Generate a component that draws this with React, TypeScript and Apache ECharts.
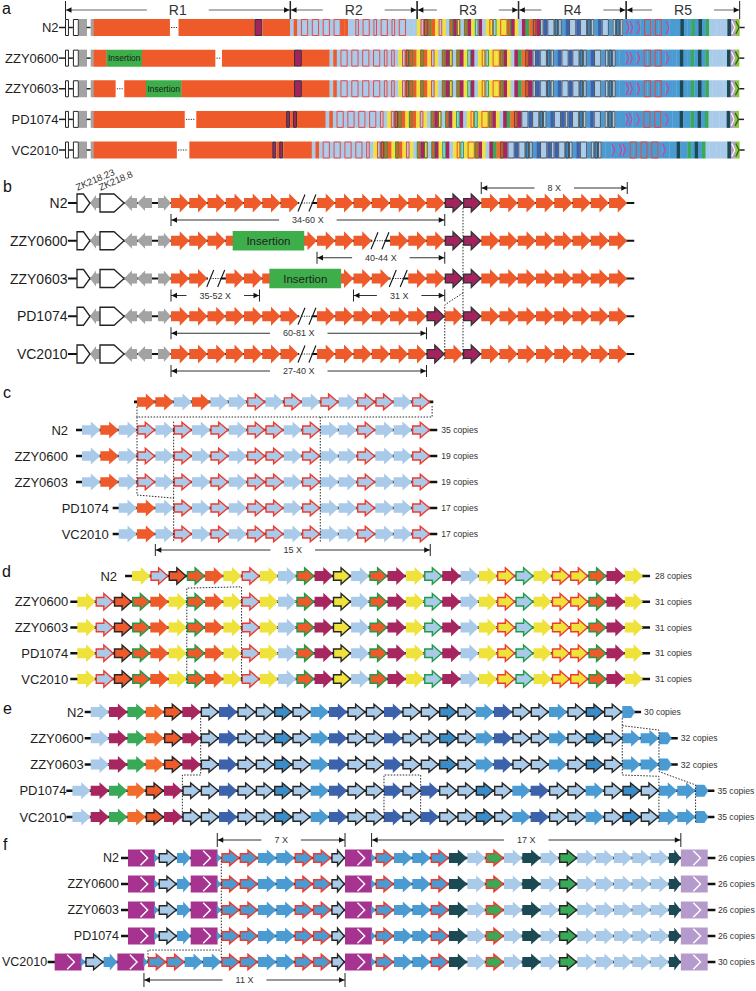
import React, { useEffect, useRef } from "react";
import * as echarts from "echarts";

const FONT = '"Liberation Sans", Arial, Helvetica, sans-serif';

// ---------- colours ----------
const OR = "#EE5A2A";
const OR2 = "#F26B2C";
const MAG = "#A3235E";
const MAG2 = "#A8265F";
const GRAY = "#A3A3A3";
const LB = "#A9CAE9";
const RED = "#EE3B30";
const GRN_O = "#1E9C48";
const YEL = "#EEE23B";
const GRN = "#38AA57";
const DB = "#3B62AB";
const MB = "#4B9BD3";
const MK = "#3A8CC8";
const TEAL = "#1C4A54";
const PUR = "#A6338F";
const LAV = "#B59BCB";
const INS = "#3DAE4A";
const LIME = "#8CC63F";
const BLK = "#262626";
const CHEV = "#D8399A";

// ---------- data ----------
const STRAINS = ["N2", "ZZY0600", "ZZY0603", "PD1074", "VC2010"];
const REGIONS = ["R1", "R2", "R3", "R4", "R5"];

// panel a : R1 segments [code, length]
const A_PREFIX: any[] = [["w", 4], ["k", 4], ["w", 6], ["g", 8], ["k", 4], ["g", 3]];
const A_R1: any[] = [
  [["O", 77], [".", 9], ["O", 77], ["m", 8], ["O", 28]],
  [["O", 13], ["I", 36], ["O", 74], [".", 7], ["O", 73], ["m", 8], ["O", 28]],
  [["O", 22], [".", 9], ["O", 22], ["I", 36], ["O", 114], ["m", 8], ["O", 28]],
  [["O", 92], [".", 12], ["O", 91], ["m", 4], ["O", 3], ["m", 4], ["O", 29]],
  [["O", 84], [".", 13], ["O", 84], ["m", 4], ["O", 3], ["m", 4], ["O", 29]],
];
// panel a : R2 and R5 repeat copies
const A_R2 = [
  "LOLRRLRRLRRLRROOLLRLRRLRLRRLRLRRLLL",
  "LOLRRLRRLRRLRRLRLRL",
  "LOLRRLRRLRRLRRLRLRL",
  "LOLRRLRRLRRLRRLRL",
  "LOLRRLRRLRRLRRLRL",
];
const A_R5 = [
  "ccBcBRRBRRBcBBBTBBGBTBGLLLLLTP",
  "ccBcBRRBRRBcBBBTBBGBTBGLLLLLTP",
  "ccBcBRRBRRBcBBBTBBGBTBGLLLLLTP",
  "ccBcBRRBRRBcBBBTBBGBTBGLLLLLTP",
  "cBccBRRBRRBRRBcBBBTBBGBTBGLLLLLLTP",
];

// panel b
const B_PREFIX: any[] = [["wp", 0.71], ["gl", 0.55], ["wp", 1.32], ["gl", 0.71], ["gl", 0.82], ["-", 0.33], ["gr", 0.71]];
const B_GENES: any[] = [["ZK218.23", 0], ["ZK218.8", 2]];
const B_ROWS = [
  "OOOOOOO/OOOOOOOMMOOOOOOOO",
  "OOOOOOOOOOO/OOOMMOOOOOOOO",
  "OO/OOOOOOOOO/OOMMOOOOOOOO",
  "OOOOOOO/OOOOOOMOMOOOOOOOO",
  "OOOOOOO/OOOOOOMOMOOOOOOOO",
];
const B_INSERT = [[1, 3.38, 7.3], [2, 5.39, 9.32]];
const B_NOTES: any[] = [
  [0, 0, 15, "34-60 X", 1],
  [0, 17, 25, "8 X", -1],
  [1, 8, 15, "40-44 X", 1],
  [2, 0, 4.85, "35-52 X", 1],
  [2, 10, 15, "31 X", 1],
  [3, 0, 14, "60-81 X", 1],
  [4, 0, 14, "27-40 X", 1],
];
const B_DOTS = [
  [[16, 0.13], [16, 4.15]],
  [[16, 2.38], [15, 2.7], [15, 4.15]],
];

// panel c
const C_TOP = "OOLOLLRLRLRLRRLR";
const C_TOP_START = 3;
const C_ROWS = [
  "LOLRLRLRLRRLRLLRLLR",
  "LOLRLRLRLRRLRLLRLLR",
  "LOLRLRLRLRRLRLLRLLR",
  "LOLRLRLRRLRLLRLLR",
  "LOLRLRLRRLRLLRLLR",
];
const C_START = [0, 0, 0, 2, 2];
const C_COPIES = ["35 copies", "19 copies", "19 copies", "17 copies", "17 copies"];
const C_NOTES: any[] = [[4, 4, 19, "15 X", 1]];
const C_DOTS = [
  [[3, -0.9], [3, -0.5], [19.1, -0.5], [19.1, -0.96]],
  [[13, -0.5], [13, 4.3]],
  [[3, -0.5], [3, 2.5], [5, 2.62], [5, 4.3]],
  [[5, -0.32], [5, 2.62]],
];

// panel d
const D_ROWS = [
  "YAKGOYAYLGMBLGMYNMLYRNYRRGMY",
  "YAKGOYGOYAYLGMBLGMYNMLYRNYRRGMY",
  "YAKGOYGOYAYLGMBLGMYNMLYRNYRRGMY",
  "YAKGOYGOYAYLGMBLGMYNMLYRNYRRGMY",
  "YAKGOYGOYAYLGMBLGMYNMLYRNYRRGMY",
];
const D_START = [3, 0, 0, 0, 0];
const D_COPIES = ["28 copies", "31 copies", "31 copies", "31 copies", "31 copies"];
const D_DOTS = [[[6, 4.16], [6, 0.47], [9, 0.42], [9, 4.16]]];

// panel e
const E_ROWS = [
  "LMGOKMWDWWCWBDWWDWWCWBDWWBWCWp",
  "LMGOKMWDWWCWBDWWDWWCWBDWWBWCWBBp",
  "LMGOKMWDWWCWBDWWDWWCWBDWWBWCWBBp",
  "LMGOKMWWDWWCWBDWWDWDWWCWBDWWBWCWBBp",
  "LMGOKMWWDWWCWBDWWDWDWWCWBDWWBWCWBBp",
];
const E_START = [0, 0, 0, -1, -1];
const E_COPIES = ["30 copies", "32 copies", "32 copies", "35 copies", "35 copies"];
const E_DOTS = [
  [[6, 0.23], [6, 2.4], [5, 2.4], [5, 4.2]],
  [[16, 4.2], [16, 2.4], [18, 2.4], [18, 4.2]],
  [[29, 0.23], [29, 2.4], [31, 2.45], [31, 4.2]],
  [[29, 0.52], [31, 0.69], [31, 2.27], [33, 2.78], [33, 4.2]],
];

// panel f
const F_ROWS = [
  "XtKsXtRRBBRRkXtRBBRTLQLTLHLLLLLdP",
  "XtKsXtRRBBRRkXtRBBRTLQLTLHLLLLLdP",
  "XtKsXtRRBBRRkXtRBBRTLQLTLHLLLLLdP",
  "XtKsXtRRBBRRkXtRBBRTLQLTLHLLLLLdP",
  "XtKsXtRRBBRRBBRRkXtRBBRTLQLTLHLLLLLdP",
];
const F_START = [0, 0, 0, 0, -4];
const F_COPIES = ["26 copies", "26 copies", "26 copies", "26 copies", "30 copies"];
const F_NOTES: any[] = [[0, 5, 12, "7 X", -1], [0, 14, 31, "17 X", -1], [4, 5, 16, "11 X", 1]];
const F_DOTS = [
  [[5.09, 0.1], [5.09, 3.85]],
  [[1.09, 3.95], [1.09, 3.54], [5.09, 3.54]],
];

// ---------- glyph maps ----------
const C_MAP: any = { L: [LB], O: [OR], R: [LB, RED] };
const D_MAP: any = { Y: [YEL], A: [LB, RED], K: [OR, BLK], G: [OR, GRN_O], O: [OR], L: [LB], M: [MAG2], B: [YEL, BLK], N: [LB, GRN_O], R: [YEL, RED] };
const E_MAP: any = { L: [LB], M: [MAG2], G: [GRN], O: [OR2], K: [OR, BLK], W: [LB, BLK], D: [DB], C: [MK, BLK], B: [MB], p: [MB] };
const F_MAP: any = { K: [LB, BLK], s: [MB], R: [MB, RED], B: [MB], k: [LB, BLK], T: [TEAL], L: [LB], Q: [GRN, RED], H: [GRN, BLK], d: [TEAL], t: [MB], X: [PUR], P: [LAV] };
const A5_MAP: any = { c: [MB], B: [MB], R: [MB, RED], T: [TEAL], G: [GRN], L: [LB], P: [LAV] };
const F_W: any = { X: 1.45, P: 1.45, t: 0.22, s: 0.75, k: 0.75, d: 0.65 };
const E_W: any = { p: 0.7 };
const A_W: any = { p: 0.7, P: 2.4 };
const CU = 3.67; // panel a: width of one repeat copy

// ---------- layout ----------
const LAY: any = {
  a: { left: 65, top: 27.5, xMax: 700, unit: 1, rowGap: 30.625 },
  b: { left: 171, top: 203, xMax: 25, unit: 18.25, rowGap: 37.75 },
  c: { left: 82, top: 430, xMax: 19, unit: 18.33, rowGap: 26 },
  d: { left: 77.3, top: 576, xMax: 31, unit: 18.25, rowGap: 25.75 },
  e: { left: 90.7, top: 712, xMax: 30, unit: 18.33, rowGap: 26.25 },
  f: { left: 128, top: 858, xMax: 30, unit: 18.33, rowGap: 26 },
};
const PANELS = ["a", "b", "c", "d", "e", "f"];
const COPY_FONT = 8.6;

// ---------- primitives ----------
function T(x: number, y: number, text: string, size: number, align: string, extra: any = {}) {
  return {
    type: "text", silent: true, x, y,
    style: Object.assign({ text, font: `${size}px ${FONT}`, fill: "#1e1e1e", align, verticalAlign: "middle", textAlign: align, textVerticalAlign: "middle" }, extra),
  };
}
function line(x1: number, y1: number, x2: number, y2: number, stroke: string, lw: number, dash?: number[]) {
  return { type: "line", silent: true, shape: { x1, y1, x2, y2 }, style: { stroke, lineWidth: lw, lineDash: dash } };
}
function rect(x: number, y: number, w: number, h: number, fill: string | null, stroke?: string | null, lw = 1) {
  return { type: "rect", silent: true, shape: { x, y, width: Math.max(w, 0), height: h }, style: { fill: fill || "none", stroke: stroke || "none", lineWidth: stroke ? lw : 0 } };
}
function poly(points: number[][], fill: string, stroke?: string, lw = 1.3) {
  return { type: "polygon", silent: true, shape: { points }, style: { fill, stroke: stroke || "none", lineWidth: stroke ? lw : 0, lineJoin: "miter" } };
}
function pline(points: number[][], stroke: string, lw: number, dash?: number[]) {
  return { type: "polyline", silent: true, shape: { points }, style: { stroke, lineWidth: lw, fill: "none", lineDash: dash } };
}
function arrowPts(x0: number, x1: number, cy: number, H: number, bh: number, maxHead = 9.5) {
  const w = x1 - x0;
  const hl = Math.min(w * 0.55, maxHead);
  const hx = x1 - hl;
  return [[x0, cy - bh / 2], [hx, cy - bh / 2], [hx, cy - H / 2], [x1, cy], [hx, cy + H / 2], [hx, cy + bh / 2], [x0, cy + bh / 2]];
}
function leftArrowPts(x0: number, x1: number, cy: number, H: number, bh: number, maxHead = 8) {
  const w = x1 - x0;
  const hl = Math.min(w * 0.6, maxHead);
  const hx = x0 + hl;
  return [[x1, cy - bh / 2], [hx, cy - bh / 2], [hx, cy - H / 2], [x0, cy], [hx, cy + H / 2], [hx, cy + bh / 2], [x1, cy + bh / 2]];
}
function measure(x0: number, x1: number, y: number, label: string, size: number, pad: number, color: string, tick: number) {
  const ah = 6, aw = 2.8;
  return [
    line(x0, y, x1, y, color, 1),
    line(x0, y - tick, x0, y + tick, "#222", 1),
    line(x1, y - tick, x1, y + tick, "#222", 1),
    poly([[x0 + 0.5, y], [x0 + ah, y - aw], [x0 + ah, y + aw]], "#111"),
    poly([[x1 - 0.5, y], [x1 - ah, y - aw], [x1 - ah, y + aw]], "#111"),
    T((x0 + x1) / 2, y, label, size, "center", { backgroundColor: "#fff", padding: [0, pad], fill: "#333" }),
  ];
}
function sumW(arr: any[]) { return arr.reduce((s, d) => s + d[1], 0); }
function codesWidth(str: string, W: any) { let s = 0; for (const c of str) s += W[c] ?? 1; return s; }
function group(children: any[]) { return { type: "group", children }; }

// generic arrow glyph
function glyph(c: string, map: any, x0: number, x1: number, cy: number, H: number, bh: number) {
  const st = map[c];
  if (!st) return [];
  const [fill, stroke] = st;
  const w = x1 - x0;
  if (c === "X" || c === "P") {
    return [rect(x0, cy - H / 2, w + 0.3, H, fill), pline([[x0 + 0.47 * w, cy - 0.42 * H], [x0 + 0.74 * w, cy], [x0 + 0.47 * w, cy + 0.42 * H]], "#fff", 1.4)];
  }
  if (c === "t") return [poly([[x0 - 0.5, cy - 5], [x1, cy], [x0 - 0.5, cy + 5]], fill)];
  if (c === "p") return [poly([[x0, cy - 6], [x1 - 4, cy - 6], [x1, cy], [x1 - 4, cy + 6], [x0, cy + 6]], fill)];
  if (stroke) return [poly(arrowPts(x0 + 0.7, x1 - 0.7, cy, H - 1.4, bh - 1.4), fill, stroke, 1.4)];
  return [poly(arrowPts(x0, x1, cy, H, bh), fill)];
}

function arrowRow(api: any, row: number, codes: string, start: number, map: any, widths: any, cfg: any, label: string | null, gap: number, copies: string | null) {
  const X = (s: number) => api.coord([s, row])[0];
  const cy = api.coord([0, row])[1];
  const ch: any[] = [];
  let s = start;
  const segs: any[] = [];
  for (const c of codes) { const w = (widths && widths[c]) || 1; segs.push([c, s, s + w]); s += w; }
  const xs = X(start), xe = X(s);
  ch.push(line(xs - cfg.lead, cy, xe + cfg.trail, cy, "#111", cfg.lw));
  if (label) ch.push(T(xs - cfg.lead - gap, cy, label, cfg.size, "right"));
  for (const [c, a, b] of segs) ch.push(...glyph(c, map, X(a), X(b), cy, cfg.H, cfg.bh));
  if (copies) ch.push(T(xe + cfg.trail + cfg.tgap, cy, copies, COPY_FONT, "left", { fill: "#333" }));
  return group(ch);
}

function itemBounds(codes: string, start: number, widths: any) {
  const out: number[][] = [];
  let s = start;
  for (const c of codes) { const w = widths[c] ?? 1; out.push([s, s + w]); s += w; }
  return out;
}

function dots(api: any, paths: number[][][]) {
  return paths.map((p) => pline(p.map((q) => api.coord(q)), "#2a2a2a", 1, [1.5, 1.5]));
}

// ---------- panel a ----------
function aSeg(code: string, x0: number, x1: number, cy: number, h: number) {
  const top = cy - h / 2, w = x1 - x0;
  switch (code) {
    case "w": return [rect(x0 + 0.5, top + 0.5, w - 1, h - 1, "#fff", "#222", 1)];
    case "k": return [line(x0, cy, x1, cy, "#222", 1.5)];
    case "g": return [rect(x0, top, w + 0.3, h, GRAY)];
    case "O": return [rect(x0, top, w + 0.3, h, OR)];
    case ".": return [line(x0 + 1.5, cy, x1 - 1.5, cy, "#333", 1, [1.2, 1.2])];
    case "m": return [rect(x0 + 0.5, top + 0.5, w - 1, h - 1, MAG, "#333", 1)];
    case "I": return [rect(x0, top, w + 0.3, h, INS), T((x0 + x1) / 2, cy, "Insertion", 8.5, "center", { fill: "#1a1a1a" })];
  }
  return [];
}
// draws one region of repeat copies; runs of the same outlined copy share one outline box
function aRegion(api: any, row: number, codes: string, map: any, u0: number, cy: number, h: number, ch: any[]) {
  const X = (u: number) => api.coord([u, row])[0];
  const top = cy - h / 2;
  let u = u0;
  const outlines: any[] = [];
  let runCode = "", runStart = 0;
  const flush = (end: number) => {
    if (runCode) {
      const st = map[runCode];
      const x0 = X(runStart), x1 = X(end);
      outlines.push(rect(x0 + 0.5, top + 0.5, x1 - x0 - 1, h - 1, null, st[1] === BLK ? "#4a4a4a" : st[1], 0.9));
    }
    runCode = "";
  };
  for (const c of codes) {
    const st = map[c];
    const w = CU * (A_W[c] ?? 1);
    const x0 = X(u), x1 = X(u + w);
    if (c === "P" && map === A5_MAP) {
      const m = x0 + (x1 - x0) / 2, ww = x1 - x0;
      ch.push(rect(x0, top, ww / 2 + 0.3, h, LAV));
      ch.push(pline([[x0 + 0.1 * ww, top + 2], [m - 0.5, cy], [x0 + 0.1 * ww, top + h - 2]], "#fff", 1.2));
      ch.push(rect(m, top, ww / 2, h, LIME));
      ch.push(pline([[m + 0.05 * ww, top + 2], [x1 - 0.5, cy], [m + 0.05 * ww, top + h - 2]], "#2F5E1A", 1.2));
    } else if (st) {
      ch.push(rect(x0, top, x1 - x0 + 0.3, h, st[0]));
      if (c === "c" && map === A5_MAP) ch.push(pline([[x0 + 0.1 * (x1 - x0), top + 2], [x1 - 0.1 * (x1 - x0), cy], [x0 + 0.1 * (x1 - x0), top + h - 2]], CHEV, 1.1));
    }
    if (st && st[1]) {
      if (runCode !== c) { flush(u); runCode = c; runStart = u; }
    } else flush(u);
    u += w;
  }
  flush(u);
  ch.push(...outlines);
  return u;
}
function renderARow(row: number, api: any) {
  const X = (u: number) => api.coord([u, row])[0];
  const cy = api.coord([0, row])[1];
  const h = 17;
  const ch: any[] = [];
  ch.push(line(X(0) - 6, cy, X(0), cy, "#222", 1.5));
  ch.push(T(X(0) - 6.5, cy, STRAINS[row], 13, "right"));
  let u = 0;
  for (const [code, w] of [...A_PREFIX, ...A_R1[row]]) { ch.push(...aSeg(code, X(u), X(u + w), cy, h)); u += w; }
  const regs: any[] = [[A_R2[row], C_MAP], [D_ROWS[row], D_MAP], [E_ROWS[row], E_MAP], [A_R5[row], A5_MAP]];
  for (const [codes, map] of regs) u = aRegion(api, row, codes, map, u, cy, h, ch);
  ch.push(line(X(u), cy, X(u) + 5, cy, "#222", 1.5));
  return group(ch);
}
function renderAHeader(api: any) {
  const X = (u: number) => api.coord([u, 0])[0];
  const y = api.coord([0, 0])[1] - 17.5;
  let u = sumW(A_PREFIX) + sumW(A_R1[0]);
  const b = [0, u];
  for (const str of [A_R2[0], D_ROWS[0], E_ROWS[0], A_R5[0]]) { u += CU * codesWidth(str, A_W); b.push(u); }
  const ch: any[] = [];
  for (let i = 0; i < 5; i++) ch.push(...measure(X(b[i]) + 0.5, X(b[i + 1]), y, REGIONS[i], 14, 22, "#666", 9));
  return group(ch);
}

// ---------- panel b ----------
function renderBRow(row: number, api: any) {
  const X = (s: number) => api.coord([s, row])[0];
  const cy = api.coord([0, row])[1];
  const H = 19, bh = 10;
  const pre = sumW(B_PREFIX);
  const codes = B_ROWS[row];
  const xs = X(-pre), xe = X(codes.length);
  const ch: any[] = [];
  ch.push(line(xs - 9, cy, xe + 7, cy, "#111", 2));
  ch.push(T(xs - 9.5, cy, STRAINS[row], 14, "right"));
  let s = -pre;
  B_PREFIX.forEach(([code, w]: any, idx: number) => {
    const x0 = X(s), x1 = X(s + w);
    if (code === "wp") {
      const hl = Math.min((x1 - x0) * 0.5, 10);
      ch.push(poly([[x0, cy - 9], [x1 - hl, cy - 9], [x1, cy], [x1 - hl, cy + 9], [x0, cy + 9]], "#fff", "#222", 1.3));
    } else if (code === "gl") {
      ch.push(poly(leftArrowPts(x0, x1, cy, 16, 10), GRAY));
    } else if (code === "gr") {
      ch.push(poly(arrowPts(x0, x1, cy, 16, 10, 8), GRAY));
    }
    if (row === 0) {
      const g = B_GENES.find((d: any) => d[1] === idx);
      if (g) ch.push({ type: "text", silent: true, x: x0 + 1, y: cy - 11, rotation: 0.4, style: { text: g[0], font: `9.5px ${FONT}`, fill: "#333", align: "left", verticalAlign: "bottom", textAlign: "left", textVerticalAlign: "bottom" } });
    }
    s += w;
  });
  for (let i = 0; i < codes.length; i++) {
    const c = codes[i];
    const x0 = X(i), x1 = X(i + 1), w = x1 - x0;
    if (c === "O") ch.push(poly(arrowPts(x0, x1, cy, H, bh), OR));
    else if (c === "M") ch.push(poly(arrowPts(x0 + 0.6, x1 - 0.6, cy, H - 1.2, bh - 1.2), MAG, "#333", 1.3));
    else if (c === "/") {
      ch.push(rect(x0 + 0.5, cy - 3, 0.72 * w, 6, "#fff"));
      ch.push(line(x0 + 0.15 * w, cy, x0 + 0.75 * w, cy, "#333", 1, [1.2, 1.2]));
      ch.push(line(x0 + 0.15 * w - 3.5, cy + 8.5, x0 + 0.15 * w + 3.5, cy - 8.5, "#111", 1.1));
      ch.push(line(x0 + 0.75 * w - 3.5, cy + 8.5, x0 + 0.75 * w + 3.5, cy - 8.5, "#111", 1.1));
    }
  }
  for (const [r, a, b] of B_INSERT) {
    if (r !== row) continue;
    ch.push(rect(X(a), cy - 9.7, X(b) - X(a), 19.4, INS));
    ch.push(T((X(a) + X(b)) / 2, cy, "Insertion", 11.5, "center", { fill: "#222" }));
  }
  return group(ch);
}
function renderNotes(api: any, notes: any[], below: number, above: number, tick: number, bounds?: (row: number) => number[][]) {
  const ch: any[] = [];
  for (const [row, a, b, label, side] of notes) {
    const y = api.coord([0, row])[1] + (side > 0 ? below : above);
    let s0 = a, s1 = b;
    if (bounds) { const bb = bounds(row); s0 = bb[a][0]; s1 = bb[b][1]; }
    ch.push(...measure(api.coord([s0, row])[0], api.coord([s1, row])[0], y, label, 9, 13, "#333", tick));
  }
  return ch;
}

// ---------- option ----------
function buildOption() {
  const grids = PANELS.map((p) => {
    const L = LAY[p];
    return { left: L.left, top: L.top, width: L.xMax * L.unit, height: 4 * L.rowGap, containLabel: false };
  });
  const xAxis = PANELS.map((p, i) => ({ gridIndex: i, type: "value", min: 0, max: LAY[p].xMax, show: false }));
  const yAxis = PANELS.map((p, i) => ({ gridIndex: i, type: "value", min: 0, max: 4, inverse: true, show: false }));
  const rows = [0, 1, 2, 3, 4].map((r) => [0, r]);
  const one = [[0, 0]];
  const mk = (gi: number, data: any[], fn: any) => ({
    type: "custom", xAxisIndex: gi, yAxisIndex: gi, data, clip: false, silent: true,
    renderItem: (params: any, api: any) => fn(params.dataIndex, api),
  });
  const cfgC = { H: 17, bh: 9.5, lead: 6, trail: 7, tgap: 4, lw: 2.6, size: 13 };
  const cfgD = { H: 18, bh: 10, lead: 7, trail: 7, tgap: 5, lw: 2.6, size: 13 };
  const cfgE = { H: 17, bh: 10, lead: 6, trail: 6, tgap: 3, lw: 2.6, size: 13 };
  const cfgF = { H: 17, bh: 10, lead: 7, trail: 8, tgap: 2.5, lw: 2.6, size: 12.5 };
  const series = [
    mk(0, rows, renderARow),
    mk(0, one, (_i: number, api: any) => renderAHeader(api)),
    mk(1, rows, renderBRow),
    mk(1, one, (_i: number, api: any) => group([...renderNotes(api, B_NOTES, 17, -15, 6), ...dots(api, B_DOTS)])),
    mk(2, rows, (r: number, api: any) => arrowRow(api, r, C_ROWS[r], C_START[r], C_MAP, null, cfgC, STRAINS[r], [8, 8, 8, 4, 4][r], C_COPIES[r])),
    mk(2, one, (_i: number, api: any) => group([
      arrowRow(api, -1.08, C_TOP, C_TOP_START, C_MAP, null, { ...cfgC, lead: 3, trail: 3 }, null, 0, null),
      ...renderNotes(api, C_NOTES, 16, -16, 6),
      ...dots(api, C_DOTS),
    ])),
    mk(3, rows, (r: number, api: any) => arrowRow(api, r, D_ROWS[r], D_START[r], D_MAP, null, cfgD, STRAINS[r], [8, 2, 2, 2, 2][r], D_COPIES[r])),
    mk(3, one, (_i: number, api: any) => group(dots(api, D_DOTS))),
    mk(4, rows, (r: number, api: any) => arrowRow(api, r, E_ROWS[r], E_START[r], E_MAP, E_W, cfgE, STRAINS[r], [1, 1, 1, 0, 0][r], E_COPIES[r])),
    mk(4, one, (_i: number, api: any) => group(dots(api, E_DOTS))),
    mk(5, rows, (r: number, api: any) => arrowRow(api, r, F_ROWS[r], F_START[r], F_MAP, F_W, cfgF, STRAINS[r], [2, 2, 2, 2, 0.5][r], F_COPIES[r])),
    mk(5, one, (_i: number, api: any) => group([
      ...renderNotes(api, F_NOTES, 18, -18, 7, (row: number) => itemBounds(F_ROWS[row], F_START[row], F_W)),
      ...dots(api, F_DOTS),
    ])),
  ];
  const letters: any[] = [["a", 2, 8], ["b", 3, 186], ["c", 3, 392], ["d", 2, 571], ["e", 3, 708], ["f", 3, 844]];
  const graphic = letters.map(([t, x, y]) => ({
    type: "text", x, y, silent: true,
    style: { text: t, font: `16px ${FONT}`, fill: "#111", align: "left", verticalAlign: "middle", textAlign: "left", textVerticalAlign: "middle" },
  }));
  return { animation: false, backgroundColor: "#fff", grid: grids, xAxis, yAxis, series, graphic };
}

export default function App() {
  const ref = useRef<HTMLDivElement>(null);
  useEffect(() => {
    const chart = echarts.init(ref.current as HTMLDivElement, null, { renderer: "svg" });
    chart.setOption(buildOption() as any);
    return () => chart.dispose();
  }, []);
  return <div ref={ref} style={{ position: "absolute", left: 0, top: 0, width: 756, height: 991, background: "#fff" }} />;
}
